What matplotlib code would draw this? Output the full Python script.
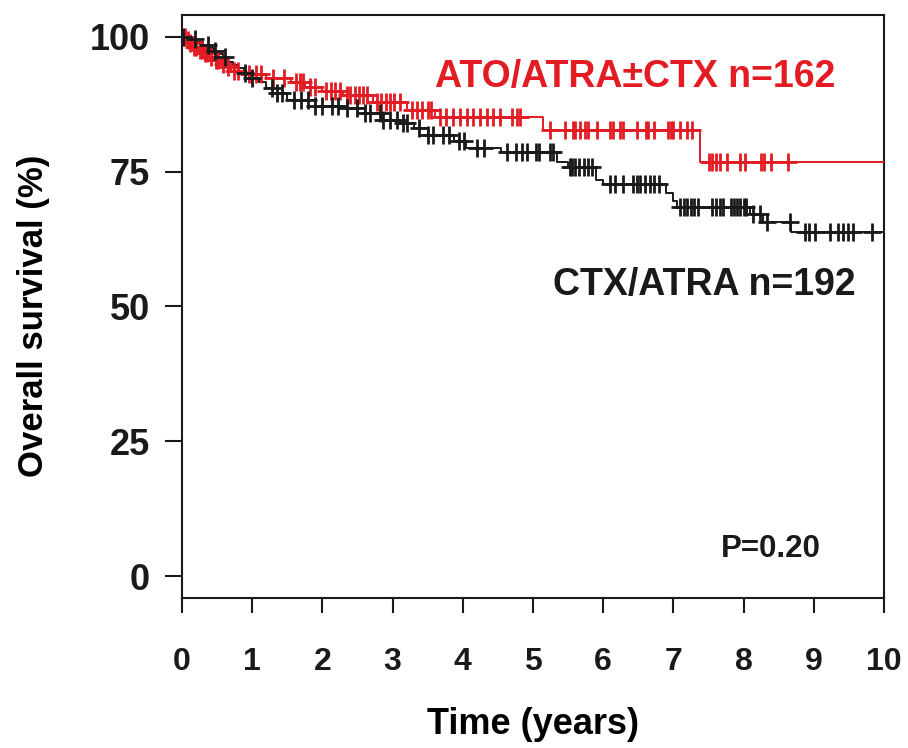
"""Kaplan-Meier overall survival: ATO/ATRA±CTX vs CTX/ATRA"""
import matplotlib
matplotlib.use('Agg')
import matplotlib.pyplot as plt
import numpy as np

plt.rcParams['font.family'] = ['Liberation Sans', 'DejaVu Sans']
plt.rcParams['font.weight'] = 'bold'

RED = '#e31b23'
BLACK = '#1a1a1a'

# ATO/ATRA±CTX (n=162): step curve and censor times
ato_t = [0, 0.05, 0.10, 0.15, 0.22, 0.30, 0.38, 0.45, 0.55, 0.62, 0.70, 0.85,
         1.20, 1.55, 1.75, 2.00, 2.30, 2.72, 3.20, 3.60, 5.14, 7.38]
ato_s = [100, 99.4, 98.8, 98.1, 97.5, 96.9, 96.2, 95.6, 95.0, 94.3, 93.7, 93.1,
         92.4, 91.5, 90.7, 89.9, 89.2, 87.9, 86.4, 85.1, 82.7, 76.8]
ato_cens = [0.04, 0.08, 0.12, 0.17, 0.20, 0.25, 0.28, 0.33, 0.36, 0.41, 0.48, 0.52,
            0.58, 0.65, 0.74, 0.80, 0.95, 1.05, 1.12, 1.30, 1.45, 1.62, 1.68, 1.72,
            1.82, 1.90, 2.05, 2.12, 2.18, 2.25, 2.35, 2.40, 2.46, 2.52, 2.58, 2.64,
            2.78, 2.84, 2.90, 2.96, 3.02, 3.10, 3.28, 3.35, 3.42, 3.50, 3.55, 3.68,
            3.76, 3.86, 3.96, 4.06, 4.15, 4.25, 4.34, 4.43, 4.53, 4.70, 4.77, 4.82,
            5.24, 5.46, 5.57, 5.60, 5.67, 5.74, 5.79, 5.91, 6.10, 6.14, 6.24, 6.28,
            6.48, 6.61, 6.64, 6.72, 6.93, 6.96, 7.00, 7.09, 7.19, 7.27,
            7.51, 7.55, 7.61, 7.66, 7.76, 7.95, 8.02, 8.25, 8.29, 8.39, 8.63]

# CTX/ATRA (n=192): step curve and censor times
ctx_t = [0, 0.10, 0.20, 0.30, 0.40, 0.45, 0.50, 0.58, 0.64, 0.72, 0.80, 0.88,
         0.97, 1.10, 1.20, 1.30, 1.50, 1.90, 2.30, 2.60, 2.85, 3.10, 3.30, 3.50,
         3.87, 4.05, 4.55, 5.34, 5.50, 5.90, 6.00, 6.90, 7.00, 7.05,
         8.09, 8.28, 8.68]
ctx_s = [100, 99.5, 99.0, 98.4, 97.9, 97.4, 96.8, 96.3, 95.2, 94.7, 94.1, 93.2,
         92.3, 91.5, 90.5, 89.6, 88.3, 87.2, 86.8, 85.8, 84.6, 84.0, 83.0, 81.8,
         80.6, 79.3, 78.6, 76.7, 75.8, 73.5, 72.7, 71.0, 69.5, 68.4,
         67.1, 65.6, 63.8]
ctx_cens = [0.02, 0.18, 0.37, 0.47, 0.62, 0.90, 1.00, 1.28, 1.35, 1.42, 1.60, 1.70,
            1.80, 1.90, 2.00, 2.14, 2.22, 2.35, 2.49, 2.60, 2.68, 2.82, 2.86, 2.96,
            3.06, 3.15, 3.20, 3.38, 3.50, 3.58, 3.72, 3.80, 3.95, 4.02, 4.20, 4.30,
            4.63, 4.76, 4.84, 4.91, 5.04, 5.08, 5.24, 5.29, 5.52, 5.56, 5.60, 5.65,
            5.72, 5.78, 5.84, 6.10, 6.17, 6.28, 6.42, 6.48, 6.52, 6.60, 6.67, 6.72,
            6.80, 7.10, 7.15, 7.20, 7.25, 7.30, 7.35, 7.55, 7.61, 7.66, 7.70, 7.82,
            7.86, 7.90, 7.95, 8.00, 8.04, 8.13, 8.23, 8.33, 8.66, 8.87, 8.93, 9.02,
            9.23, 9.35, 9.42, 9.49, 9.56, 9.83]

x_ticks = list(range(0, 11))
y_ticks = [0, 25, 50, 75, 100]


def step_value(times, surv, at):
    idx = np.searchsorted(times, at, side='right') - 1
    return np.asarray(surv)[idx]


fig = plt.figure(figsize=(9.08, 7.48), dpi=100)
ax = fig.add_axes([0.2004, 0.2005, 0.7732, 0.7795])

for t, s, c, col in [(ato_t, ato_s, ato_cens, RED), (ctx_t, ctx_s, ctx_cens, BLACK)]:
    ax.step(t + [10], s + [s[-1]], where='post', color=col, lw=1.4, zorder=3)
    ax.plot(c, step_value(t, s, c), ls='none', marker='+', ms=13, mew=2,
            color=col, zorder=4)

ax.set_xlim(0, 10)
ax.set_ylim(-4, 104)
ax.set_xticks(x_ticks)
ax.set_yticks(y_ticks)
ax.tick_params(axis='x', direction='out', length=11, width=1.5, pad=24,
               labelsize=23, colors=BLACK)
ax.tick_params(axis='y', direction='out', length=12, width=1.5, pad=11,
               labelsize=26, colors=BLACK)
for sp in ax.spines.values():
    sp.set_linewidth(1.5)
    sp.set_color(BLACK)

ax.set_xlabel('Time (years)', fontsize=26, fontweight='bold', labelpad=22)
ax.set_ylabel('Overall survival (%)', fontsize=25, fontweight='bold')
ax.yaxis.set_label_coords(-0.188, 0.484)

ax.text(9.3, 92.5, 'ATO/ATRA±CTX n=162', color=RED, fontsize=27,
        fontweight='bold', ha='right', va='center')
ax.text(9.6, 54.0, 'CTX/ATRA n=192', color=BLACK, fontsize=27,
        fontweight='bold', ha='right', va='center')
ax.text(9.1, 5, 'P=0.20', color=BLACK, fontsize=22.5,
        fontweight='bold', ha='right', va='center')

fig.savefig('out.png', dpi=100)
plt.close()
